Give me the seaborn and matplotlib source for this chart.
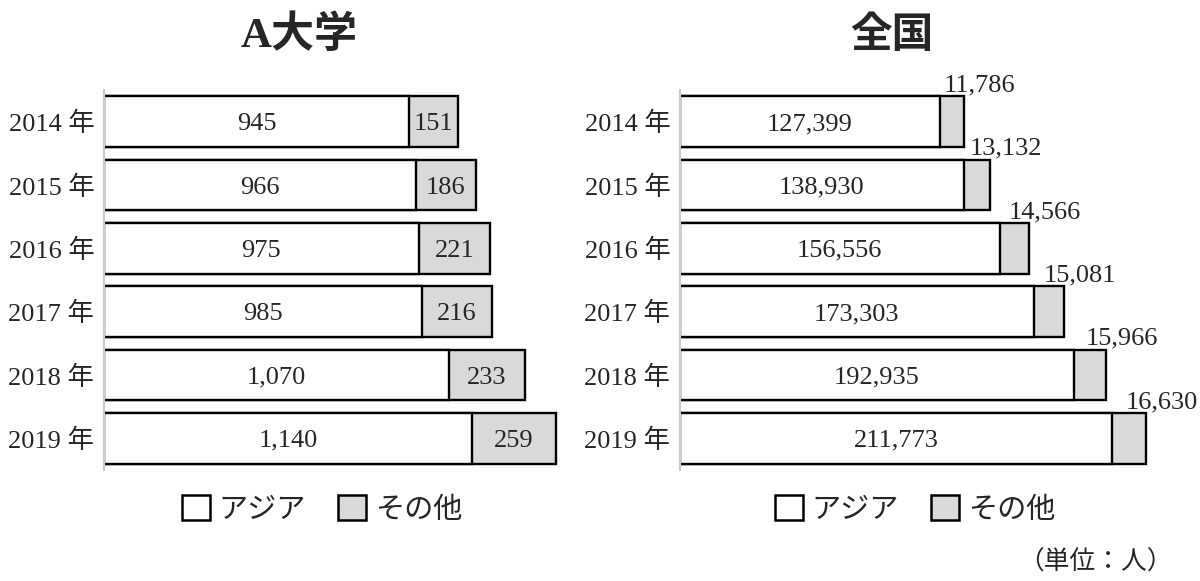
import matplotlib
matplotlib.use('Agg')
import matplotlib.pyplot as plt
from matplotlib.patches import Patch
import seaborn as sns
import pandas as pd

years = ['2014 年', '2015 年', '2016 年', '2017 年', '2018 年', '2019 年']
univ_asia = [945, 966, 975, 985, 1070, 1140]
univ_other = [151, 186, 221, 216, 233, 259]
nat_asia = [127399, 138930, 156556, 173303, 192935, 211773]
nat_other = [11786, 13132, 14566, 15081, 15966, 16630]

sns.set_style('white')
plt.rcParams['font.family'] = ['Liberation Serif', 'Noto Sans CJK JP', 'DejaVu Sans']

GRAY = '#d9d9d9'

fig = plt.figure(figsize=(12, 5.81), dpi=100)
ax1 = fig.add_axes([104 / 1200, 1 - 470 / 581, 466 / 1200, 380 / 581])
ax2 = fig.add_axes([680 / 1200, 1 - 470 / 581, 490 / 1200, 380 / 581])


def draw(ax, asia, other, xmax, inside_other, leg_x):
    df = pd.DataFrame({'year': years, 'asia': asia, 'other': other})
    df['total'] = df['asia'] + df['other']
    sns.barplot(data=df, x='total', y='year', orient='h', color=GRAY,
                edgecolor='black', linewidth=1.7, width=0.8, saturation=1, ax=ax)
    sns.barplot(data=df, x='asia', y='year', orient='h', color='white',
                edgecolor='black', linewidth=1.7, width=0.8, saturation=1, ax=ax)
    for i, row in df.iterrows():
        ax.text(row['asia'] / 2, i + 0.04, f"{row['asia']:,}", ha='center',
                va='center', fontsize=19)
        if inside_other:
            ax.text(row['asia'] + row['other'] / 2, i + 0.04, f"{row['other']:,}",
                    ha='center', va='center', fontsize=19)
        else:
            ax.annotate(f"{row['other']:,}", xy=(row['total'], i - 0.4),
                        xytext=(11, 0), textcoords='offset points',
                        ha='center', va='bottom', fontsize=19,
                        annotation_clip=False)
    ax.set_xlim(0, xmax)
    ax.set_ylim(5.5, -0.5)
    ax.set_xlabel('')
    ax.set_ylabel('')
    ax.set_xticks([])
    ax.tick_params(axis='y', length=0, pad=7, labelsize=19)
    for s in ['top', 'right', 'bottom']:
        ax.spines[s].set_visible(False)
    ax.spines['left'].set_color('#cccccc')
    ax.spines['left'].set_linewidth(1.5)
    handles = [Patch(facecolor='white', edgecolor='black', linewidth=1.8, label='アジア'),
               Patch(facecolor=GRAY, edgecolor='black', linewidth=1.8, label='その他')]
    ax.legend(handles=handles, loc='upper center', bbox_to_anchor=(leg_x, 0.003),
              ncol=2, frameon=False, fontsize=21, handlelength=0.95,
              handleheight=0.95, handletextpad=0.3, columnspacing=1.1)


draw(ax1, univ_asia, univ_other, 466 / 0.3228, True, 0.468)
draw(ax2, nat_asia, nat_other, 490 / 0.002041, False, 0.48)

fig.text(299 / 1200, 1 - 36 / 581, 'A大学', ha='center', va='center',
         fontsize=31, fontweight='bold')
fig.text(892 / 1200, 1 - 36 / 581, '全国', ha='center', va='center',
         fontsize=30, fontweight='bold')
fig.text(1095 / 1200, 1 - 562 / 581, '（単位：人）', ha='center', va='center',
         fontsize=18.5)

fig.savefig('out.png', dpi=100)
